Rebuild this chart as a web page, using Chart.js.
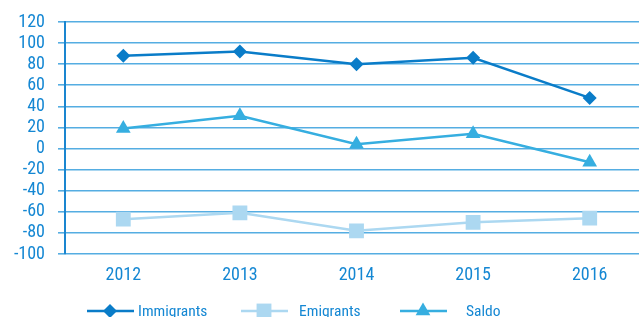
<!DOCTYPE html>
<html>
<head>
<meta charset="utf-8">
<script src="https://cdn.jsdelivr.net/npm/chart.js@4/dist/chart.umd.min.js"></script>
<style>
  html, body { margin: 0; padding: 0; background: #fff; overflow: hidden; }
  #wrap { width: 639px; height: 317px; overflow: hidden; }
  canvas { display: block; }
</style>
</head>
<body>
<div id="wrap"><canvas id="migrationChart" width="648" height="317"></canvas></div>
<script>
const years = ['2012', '2013', '2014', '2015', '2016'];
const immigrants = [88, 92, 80, 86, 48];
const emigrants = [-67, -61, -78, -70, -66];
const saldo = [19, 31, 4, 14, -13];

const FONT = '"Liberation Sans Narrow", "Roboto Condensed", "Liberation Sans", sans-serif';
const TEXT_COLOR = '#1487d3';

// legend drawn by hand: line + marker + label, like the original
const bottomLegend = {
    id: 'bottomLegend',
    afterDraw(chart) {
        const ctx = chart.ctx;
        const y = 311;
        const items = [
            { x: 87, textX: 138, ds: chart.data.datasets[0] },
            { x: 241, textX: 299, ds: chart.data.datasets[1] },
            { x: 400, textX: 466, ds: chart.data.datasets[2] }
        ];
        ctx.save();
        items.forEach(function (it) {
            ctx.strokeStyle = it.ds.borderColor;
            ctx.lineWidth = 2.5;
            ctx.beginPath();
            ctx.moveTo(it.x, y);
            ctx.lineTo(it.x + 47, y);
            ctx.stroke();
            ctx.fillStyle = it.ds.pointBackgroundColor;
            Chart.helpers.drawPoint(ctx, {
                pointStyle: it.ds.pointStyle,
                radius: it.ds.pointRadius,
                rotation: 0,
                borderWidth: 0
            }, it.x + 23, y);
            ctx.fillStyle = TEXT_COLOR;
            ctx.font = '15.5px ' + FONT;
            ctx.textBaseline = 'middle';
            ctx.fillText(it.ds.label, it.textX, y + 1);
        });
        ctx.restore();
    }
};

const ctx = document.getElementById('migrationChart').getContext('2d');
new Chart(ctx, {
    type: 'line',
    data: {
        labels: years,
        datasets: [
            {
                label: 'Immigrants',
                data: immigrants,
                borderColor: '#0a7cc8',
                pointBackgroundColor: '#0a7cc8',
                pointBorderWidth: 0,
                pointStyle: 'rectRot',
                pointRadius: 7,
                borderWidth: 2.5,
                tension: 0
            },
            {
                label: 'Emigrants',
                data: emigrants,
                borderColor: '#acd8f1',
                pointBackgroundColor: '#acd8f1',
                pointBorderWidth: 0,
                pointStyle: 'rect',
                pointRadius: 10.5,
                borderWidth: 2.5,
                tension: 0
            },
            {
                label: 'Saldo',
                data: saldo,
                borderColor: '#36aee0',
                pointBackgroundColor: '#36aee0',
                pointBorderWidth: 0,
                pointStyle: 'triangle',
                pointRadius: 8.5,
                borderWidth: 2.5,
                tension: 0
            }
        ]
    },
    options: {
        responsive: false,
        animation: false,
        layout: { autoPadding: false, padding: { top: 22, right: 0, left: 0, bottom: 0 } },
        plugins: {
            legend: { display: false },
            tooltip: { enabled: false }
        },
        scales: {
            x: {
                offset: true,
                grid: { display: false, drawTicks: false },
                border: { display: false },
                ticks: {
                    autoSkip: false,
                    maxRotation: 0,
                    color: TEXT_COLOR,
                    font: { family: FONT, size: 18 },
                    padding: 11
                },
                afterFit(scale) {
                    scale.height = 63;
                    scale.paddingLeft = 0;
                    scale.paddingRight = 0;
                }
            },
            y: {
                min: -100,
                max: 120,
                ticks: {
                    autoSkip: false,
                    stepSize: 20,
                    color: TEXT_COLOR,
                    font: { family: FONT, size: 18 },
                    padding: 13
                },
                grid: {
                    color: '#55ade2',
                    lineWidth: 1.6,
                    tickLength: 7
                },
                border: { display: true, color: '#1a86d0', width: 2 },
                afterFit(scale) {
                    scale.width = 65;
                    scale.paddingTop = 0;
                    scale.paddingBottom = 0;
                }
            }
        }
    },
    plugins: [bottomLegend]
});
</script>
</body>
</html>
